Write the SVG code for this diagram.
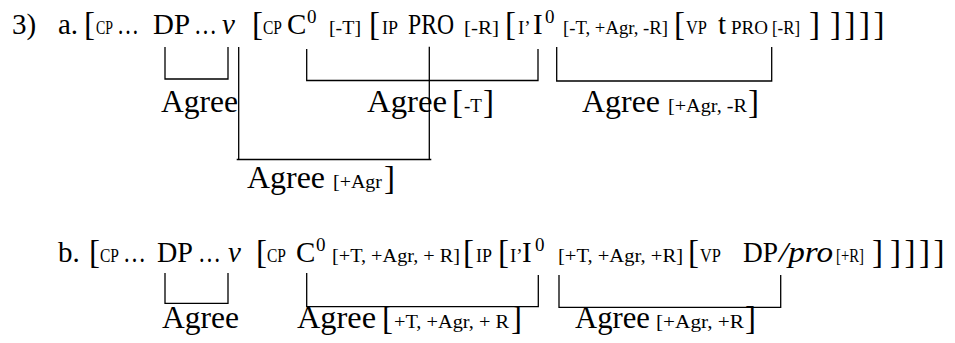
<svg xmlns="http://www.w3.org/2000/svg" width="955" height="343" viewBox="0 0 955 343">
  <style>
    text { font-family: "Liberation Serif", "Times New Roman", serif; fill: #000; }
    .m { font-size: 29px; }
    .b { font-size: 33px; }
    .s { font-size: 19px; }
    .sup { font-size: 19px; }
    .g { font-size: 32px; }
    .i { font-style: italic; }
    .ln { fill: none; stroke: #000; stroke-width: 1.3; }
  </style>
  <rect width="955" height="343" fill="#fff"/>

  <!-- example (3a): structure line -->
  <g id="line-a">
    <text class="m" x="12" y="34">3)</text>
    <text class="m" x="58" y="34">a.</text>
    <text class="b" x="84" y="35">[</text>
    <text class="s" x="96" y="34" textLength="17" lengthAdjust="spacingAndGlyphs">CP</text>
    <text class="m" x="117" y="34" textLength="22" lengthAdjust="spacingAndGlyphs">…</text>
    <text class="m" x="153" y="34" textLength="37" lengthAdjust="spacingAndGlyphs">DP</text>
    <text class="m" x="194" y="34" textLength="23" lengthAdjust="spacingAndGlyphs">…</text>
    <text class="m i" x="222" y="34">v</text>
    <text class="b" x="252" y="35">[</text>
    <text class="s" x="263" y="34" textLength="19" lengthAdjust="spacingAndGlyphs">CP</text>
    <text class="m" x="287" y="34">C</text>
    <text class="sup" x="307" y="23">0</text>
    <text class="s" x="329" y="34" textLength="32" lengthAdjust="spacingAndGlyphs">[-T]</text>
    <text class="b" x="369" y="35">[</text>
    <text class="s" x="382" y="34" textLength="16" lengthAdjust="spacingAndGlyphs">IP</text>
    <text class="m" x="408" y="34" textLength="46" lengthAdjust="spacingAndGlyphs">PRO</text>
    <text class="s" x="464" y="34" textLength="35" lengthAdjust="spacingAndGlyphs">[-R]</text>
    <text class="b" x="505" y="35">[</text>
    <text class="s" x="518" y="34">I’</text>
    <text class="m" x="533" y="34">I</text>
    <text class="sup" x="545" y="23">0</text>
    <text class="s" x="563" y="34" textLength="105" lengthAdjust="spacingAndGlyphs">[-T, +Agr, -R]</text>
    <text class="b" x="674" y="35">[</text>
    <text class="s" x="686" y="34" textLength="21" lengthAdjust="spacingAndGlyphs">VP</text>
    <text class="m" x="718" y="34">t</text>
    <text class="s" x="731" y="34" textLength="37" lengthAdjust="spacingAndGlyphs">PRO</text>
    <text class="s" x="772" y="34" textLength="28" lengthAdjust="spacingAndGlyphs">[-R]</text>
    <text class="b" x="809" y="35">]</text>
    <text class="b" x="830" y="35" letter-spacing="3.5">]]]]</text>
  </g>

  <!-- Agree labels for (3a) -->
  <g id="agree-a1"><text class="g" x="161" y="112" textLength="77" lengthAdjust="spacingAndGlyphs">Agree</text></g>
  <g id="agree-a2">
    <text class="g" x="367" y="112" textLength="80" lengthAdjust="spacingAndGlyphs">Agree</text>
    <text class="b" x="452" y="113">[</text>
    <text class="s" x="464" y="112">-T</text>
    <text class="b" x="483" y="113">]</text>
  </g>
  <g id="agree-a3">
    <text class="g" x="582" y="112" textLength="78" lengthAdjust="spacingAndGlyphs">Agree</text>
    <text class="s" x="668" y="112" textLength="79" lengthAdjust="spacingAndGlyphs">[+Agr, -R</text>
    <text class="b" x="748" y="113">]</text>
  </g>
  <g id="agree-a4">
    <text class="g" x="247" y="188" textLength="78" lengthAdjust="spacingAndGlyphs">Agree</text>
    <text class="s" x="333" y="188" textLength="49" lengthAdjust="spacingAndGlyphs">[+Agr</text>
    <text class="b" x="384" y="189">]</text>
  </g>

  <!-- example (3b): structure line -->
  <g id="line-b">
    <text class="m" x="58" y="262">b.</text>
    <text class="b" x="89" y="263">[</text>
    <text class="s" x="100" y="262" textLength="19" lengthAdjust="spacingAndGlyphs">CP</text>
    <text class="m" x="123" y="262" textLength="23" lengthAdjust="spacingAndGlyphs">…</text>
    <text class="m" x="157" y="262" textLength="36" lengthAdjust="spacingAndGlyphs">DP</text>
    <text class="m" x="198" y="262" textLength="23" lengthAdjust="spacingAndGlyphs">…</text>
    <text class="m i" x="228" y="262">v</text>
    <text class="b" x="256" y="263">[</text>
    <text class="s" x="267" y="262" textLength="19" lengthAdjust="spacingAndGlyphs">CP</text>
    <text class="m" x="296" y="262">C</text>
    <text class="sup" x="316" y="251">0</text>
    <text class="s" x="332" y="262" textLength="128" lengthAdjust="spacingAndGlyphs">[+T, +Agr, + R]</text>
    <text class="b" x="463" y="263">[</text>
    <text class="s" x="476" y="262" textLength="16" lengthAdjust="spacingAndGlyphs">IP</text>
    <text class="b" x="498" y="263">[</text>
    <text class="s" x="510" y="262">I’</text>
    <text class="m" x="522" y="262">I</text>
    <text class="sup" x="535" y="251">0</text>
    <text class="s" x="558" y="262" textLength="125" lengthAdjust="spacingAndGlyphs">[+T, +Agr, +R]</text>
    <text class="b" x="688" y="263">[</text>
    <text class="s" x="700" y="262" textLength="21" lengthAdjust="spacingAndGlyphs">VP</text>
    <text class="m" x="743" y="262" textLength="35" lengthAdjust="spacingAndGlyphs">DP</text>
    <text class="m i" x="779" y="262" textLength="54" lengthAdjust="spacingAndGlyphs">/pro</text>
    <text class="s" x="836" y="262" textLength="28" lengthAdjust="spacingAndGlyphs">[+R]</text>
    <text class="b" x="872" y="263">]</text>
    <text class="b" x="890" y="263" letter-spacing="3.5">]]]]</text>
  </g>

  <!-- Agree labels for (3b) -->
  <g id="agree-b1"><text class="g" x="162" y="328" textLength="77" lengthAdjust="spacingAndGlyphs">Agree</text></g>
  <g id="agree-b2">
    <text class="g" x="297" y="328" textLength="79" lengthAdjust="spacingAndGlyphs">Agree</text>
    <text class="b" x="382" y="329">[</text>
    <text class="s" x="394" y="328" textLength="115" lengthAdjust="spacingAndGlyphs">+T, +Agr, + R</text>
    <text class="b" x="511" y="329">]</text>
  </g>
  <g id="agree-b3">
    <text class="g" x="575" y="328" textLength="75" lengthAdjust="spacingAndGlyphs">Agree</text>
    <text class="s" x="656" y="328" textLength="88" lengthAdjust="spacingAndGlyphs">[+Agr, +R</text>
    <text class="b" x="745" y="329">]</text>
  </g>

  <!-- agreement brackets -->
  <g id="connectors" class="ln">
    <path d="M165,47 V79 H228 V47"/>
    <path d="M306.7,49 V80.5 H538 V49"/>
    <path d="M556.7,47 V81 H771.7 V47"/>
    <path d="M238.7,47 V160 M236.7,159.5 H431.3 M429.3,46.7 V160"/>
    <path d="M165,273 V303.3 H228 V273"/>
    <path d="M306.7,273 V306.7 H538.3 V275"/>
    <path d="M559,275 V307.3 H780.7 V275"/>
  </g>
</svg>
